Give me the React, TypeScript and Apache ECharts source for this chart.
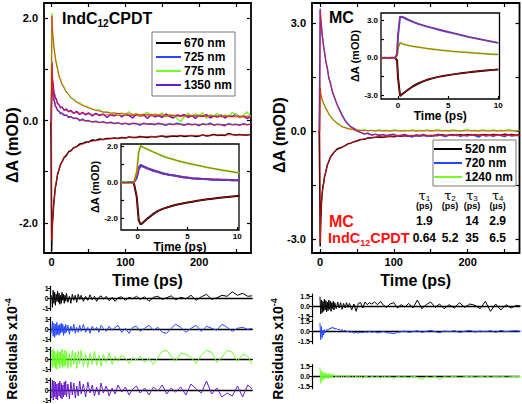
import React, { useEffect, useRef } from 'react';
import * as echarts from 'echarts';

const FONT = '"Liberation Sans", Arial, Helvetica, sans-serif';

// ---------- time grids ----------
const tMain = [
  -2, -1, 0, 0.3, 1, 2, 3, 4, 5, 6,
  8, 10, 12, 14, 17, 20, 23, 26, 30, 34,
  38, 42, 46, 50, 55, 60, 65, 70, 75, 80,
  85, 90, 95, 100, 105, 110, 115, 120, 125, 130,
  135, 140, 145, 150, 155, 160, 165, 170, 175, 180,
  185, 190, 195, 200, 205, 210, 215, 220, 225, 230,
  235, 240, 245, 250, 255, 260, 265, 270,
];
const tFit = [
  -2, -0.1, 0.3, 1, 2, 3, 4, 5, 6, 8,
  10, 12, 14, 17, 20, 25, 30, 35, 40, 50,
  60, 70, 80, 100, 120, 150, 180, 210, 240, 270,
];
const tInsetL = [
  -1.7, -1.2, -0.8, -0.4, -0.1, 0.1, 0.3, 0.6, 1, 1.5,
  2, 2.5, 3, 3.5, 4, 4.5, 5, 5.5, 6, 6.5,
  7, 7.5, 8, 8.5, 9, 9.5, 10, 10.2,
];
const tInsetR = [
  -1.7, -1.3, -0.9, -0.6, -0.3, -0.1, 0, 0.2, 0.5, 1,
  1.5, 2, 2.5, 3, 3.5, 4, 4.5, 5, 5.5, 6,
  6.5, 7, 7.5, 8, 8.5, 9, 9.5, 10,
];
const tRes = [
  0, 1, 2, 3, 4, 5, 6, 7, 8, 9,
  10, 11, 12, 13, 14, 15, 16, 17, 18, 19,
  20, 22, 24, 26, 28, 30, 32, 34, 36, 38,
  40, 43, 46, 49, 52, 55, 58, 61, 64, 67,
  70, 74, 78, 82, 86, 90, 95, 100, 105, 110,
  115, 120, 126, 132, 138, 144, 150, 156, 162, 168,
  175, 182, 189, 196, 203, 210, 217, 224, 231, 238,
  245, 252, 259, 266, 272,
];

// ---------- left panel (IndC12CPDT) ----------
const L670 = [
  0, 0, -2.55, -2.3, -2.02, -1.82, -1.58, -1.46, -1.3, -1.24,
  -1.05, -0.96, -0.86, -0.81, -0.72, -0.68, -0.61, -0.59, -0.53, -0.51,
  -0.46, -0.45, -0.42, -0.42, -0.38, -0.39, -0.36, -0.37, -0.35, -0.35,
  -0.34, -0.35, -0.33, -0.34, -0.32, -0.33, -0.33, -0.31, -0.32, -0.33,
  -0.31, -0.32, -0.31, -0.3, -0.32, -0.31, -0.3, -0.31, -0.29, -0.31,
  -0.3, -0.29, -0.31, -0.3, -0.28, -0.3, -0.29, -0.27, -0.29, -0.28,
  -0.29, -0.25, -0.27, -0.28, -0.27, -0.28, -0.28, -0.27,
];
const L725 = [
  0, 0.01, 0.5, 0.97, 0.68, 0.54, 0.4, 0.37, 0.28, 0.27,
  0.2, 0.18, 0.13, 0.15, 0.1, 0.11, 0.06, 0.08, 0.04, 0.05,
  0.0, 0.03, -0.01, 0.0, -0.03, -0.01, -0.04, -0.02, -0.05, -0.03,
  -0.06, -0.04, -0.07, -0.05, -0.08, -0.05, -0.06, -0.09, -0.05, -0.07,
  -0.06, -0.08, -0.05, -0.07, -0.09, -0.06, -0.08, -0.05, -0.07, -0.09,
  -0.06, -0.08, -0.07, -0.1, -0.06, -0.08, -0.05, -0.09, -0.07, -0.08,
  -0.1, -0.06, -0.08, -0.07, -0.09, -0.06, -0.08, -0.07,
];
const L775 = [
  0, -0.02, 1.5, 2.1, 1.75, 1.62, 1.42, 1.35, 1.22, 1.16,
  1.02, 0.86, 0.81, 0.7, 0.65, 0.55, 0.52, 0.44, 0.42, 0.36,
  0.35, 0.3, 0.28, 0.26, 0.22, 0.2, 0.21, 0.15, 0.18, 0.13,
  0.16, 0.11, 0.15, 0.12, 0.17, 0.1, 0.14, 0.08, 0.13, 0.16,
  0.09, 0.13, 0.11, 0.15, 0.07, 0.12, 0.1, 0.04, -0.02, 0.08,
  0.14, 0.08, 0.13, 0.1, 0.15, 0.04, 0.12, 0.09, 0.14, 0.07,
  0.11, 0.08, 0.16, 0.12, 0.05, 0.1, 0.17, 0.07,
];
const L1350 = [
  0.02, 0.0, 0.6, 1.15, 0.82, 0.71, 0.55, 0.52, 0.43, 0.44,
  0.33, 0.31, 0.25, 0.27, 0.2, 0.23, 0.17, 0.2, 0.14, 0.18,
  0.12, 0.16, 0.11, 0.15, 0.09, 0.14, 0.1, 0.13, 0.06, 0.12,
  0.09, 0.14, 0.07, 0.12, 0.1, 0.05, 0.13, 0.08, 0.11, 0.04,
  0.12, 0.07, 0.1, 0.06, 0.13, 0.08, 0.05, 0.11, 0.09, 0.12,
  0.06, 0.1, 0.04, 0.11, 0.08, 0.12, 0.05, 0.09, 0.07, 0.11,
  0.05, 0.1, 0.08, 0.13, 0.06, 0.09, 0.04, 0.08,
];
const L670fit = [
  0, 0, -2.35, -2.04, -1.8, -1.6, -1.45, -1.32, -1.22, -1.06,
  -0.95, -0.87, -0.8, -0.72, -0.66, -0.59, -0.54, -0.5, -0.47, -0.42,
  -0.39, -0.37, -0.355, -0.335, -0.32, -0.305, -0.295, -0.285, -0.28, -0.275,
];
const L725fit = [
  0, 0, 0.95, 0.7, 0.52, 0.42, 0.35, 0.3, 0.26, 0.21,
  0.18, 0.16, 0.14, 0.12, 0.1, 0.07, 0.05, 0.03, 0.01, -0.01,
  -0.03, -0.04, -0.05, -0.06, -0.065, -0.07, -0.072, -0.075, -0.077, -0.078,
];
const L775fit = [
  0, 0, 2.05, 1.8, 1.6, 1.45, 1.33, 1.23, 1.14, 1.0,
  0.88, 0.79, 0.72, 0.63, 0.56, 0.47, 0.4, 0.35, 0.31, 0.25,
  0.2, 0.17, 0.15, 0.13, 0.12, 0.11, 0.1, 0.095, 0.09, 0.085,
];
const L1350fit = [
  0, 0, 1.1, 0.85, 0.68, 0.58, 0.5, 0.45, 0.41, 0.35,
  0.3, 0.27, 0.25, 0.22, 0.2, 0.18, 0.16, 0.15, 0.14, 0.13,
  0.12, 0.115, 0.11, 0.1, 0.095, 0.09, 0.085, 0.08, 0.075, 0.07,
];
// left inset (0-10 ps)
const LI670 = [
  0, 0, 0.01, 0, -0.8, -2.1, -2.35, -2.2, -2.0, -1.78,
  -1.6, -1.47, -1.38, -1.3, -1.23, -1.17, -1.12, -1.07, -1.02, -0.98,
  -0.94, -0.9, -0.87, -0.84, -0.81, -0.78, -0.75, -0.74,
];
const LI725 = [
  0, 0, 0.01, -0.01, 0.3, 0.85, 0.98, 0.9, 0.8, 0.7,
  0.6, 0.52, 0.46, 0.4, 0.35, 0.3, 0.26, 0.23, 0.21, 0.19,
  0.18, 0.17, 0.16, 0.15, 0.14, 0.13, 0.12, 0.12,
];
const LI775 = [
  0, 0.01, -0.01, 0.02, 0.6, 1.7, 2.05, 1.95, 1.85, 1.72,
  1.6, 1.48, 1.38, 1.3, 1.22, 1.15, 1.08, 1.02, 0.96, 0.9,
  0.84, 0.79, 0.74, 0.69, 0.64, 0.6, 0.55, 0.53,
];
const LI1350 = [
  0.02, 0, 0.01, 0, 0.25, 0.75, 0.92, 0.88, 0.78, 0.66,
  0.6, 0.5, 0.44, 0.41, 0.36, 0.31, 0.28, 0.24, 0.22, 0.2,
  0.2, 0.16, 0.17, 0.14, 0.15, 0.12, 0.13, 0.11,
];

// ---------- right panel (MC) ----------
const R520 = [
  0, 0.01, -2.2, -3.2, -2.55, -1.98, -1.73, -1.53, -1.44, -1.28,
  -1.12, -0.93, -0.84, -0.72, -0.64, -0.56, -0.5, -0.47, -0.44, -0.4,
  -0.35, -0.33, -0.29, -0.27, -0.23, -0.22, -0.19, -0.18, -0.17, -0.16,
  -0.17, -0.15, -0.14, -0.15, -0.13, -0.14, -0.12, -0.14, -0.13, -0.12,
  -0.13, -0.11, -0.12, -0.13, -0.11, -0.12, -0.1, -0.12, -0.11, -0.1,
  -0.12, -0.1, -0.11, -0.09, -0.11, -0.1, -0.12, -0.09, -0.1, -0.11,
  -0.09, -0.1, -0.11, -0.08, -0.1, -0.09, -0.11, -0.1,
];
const R720 = [
  0.02, 0, 2.5, 3.4, 3.12, 2.93, 2.66, 2.52, 2.33, 2.22,
  1.93, 1.75, 1.47, 1.35, 1.08, 0.92, 0.75, 0.62, 0.45, 0.3,
  0.2, 0.12, 0.08, 0.01, -0.03, -0.08, -0.05, -0.11, -0.08, -0.12,
  -0.09, -0.13, -0.1, -0.08, -0.14, -0.11, -0.09, -0.13, -0.16, -0.1,
  -0.12, -0.09, -0.14, -0.11, -0.13, -0.08, -0.12, -0.15, -0.1, -0.12,
  -0.09, -0.14, -0.11, -0.13, -0.09, -0.12, -0.16, -0.1, -0.13, -0.11,
  -0.14, -0.09, -0.12, -0.15, -0.1, -0.13, -0.11, -0.12,
];
const R1240 = [
  0, 0.01, 0.8, 1.22, 1.02, 0.97, 0.86, 0.84, 0.75, 0.74,
  0.62, 0.58, 0.46, 0.44, 0.33, 0.29, 0.22, 0.2, 0.12, 0.11,
  0.07, 0.08, 0.04, 0.05, 0.02, 0.04, 0.01, 0.03, 0.0, 0.04,
  0.01, 0.03, 0.0, 0.04, 0.02, 0.0, 0.03, 0.01, 0.04, 0.0,
  0.03, 0.01, 0.04, 0.0, 0.02, 0.05, 0.01, 0.03, 0.0, 0.04,
  0.02, 0.0, 0.03, 0.05, 0.01, 0.03, 0.0, 0.04, 0.02, 0.01,
  0.04, 0.0, 0.03, 0.01, 0.05, 0.02, 0.0, 0.03,
];
const R520fit = [
  0, 0, -3.1, -2.5, -2.0, -1.7, -1.55, -1.42, -1.3, -1.1,
  -0.94, -0.82, -0.73, -0.63, -0.55, -0.5, -0.45, -0.39, -0.34, -0.26,
  -0.21, -0.18, -0.16, -0.14, -0.13, -0.12, -0.11, -0.105, -0.1, -0.1,
];
const R720fit = [
  0, 0, 3.35, 3.15, 2.9, 2.7, 2.5, 2.35, 2.2, 1.95,
  1.72, 1.5, 1.32, 1.1, 0.9, 0.65, 0.42, 0.26, 0.14, 0.0,
  -0.06, -0.09, -0.1, -0.11, -0.115, -0.12, -0.12, -0.12, -0.12, -0.12,
];
const R1240fit = [
  0, 0, 1.2, 1.05, 0.95, 0.88, 0.82, 0.77, 0.72, 0.64,
  0.56, 0.48, 0.42, 0.34, 0.27, 0.19, 0.13, 0.09, 0.06, 0.03,
  0.02, 0.015, 0.01, 0.01, 0.01, 0.01, 0.01, 0.01, 0.01, 0.01,
];
// right inset (0-10 ps)
const RI520 = [
  0, -0.02, 0, 0.01, 0, -0.2, -1.6, -3.05, -2.85, -2.55,
  -2.27, -2.05, -1.88, -1.73, -1.62, -1.52, -1.45, -1.38, -1.32, -1.26,
  -1.21, -1.16, -1.11, -1.07, -1.03, -0.99, -0.96, -0.93,
];
const RI720 = [
  0, 0.02, -0.01, 0, 0.01, 0.3, 1.8, 3.3, 3.25, 3.05,
  2.88, 2.72, 2.6, 2.48, 2.38, 2.27, 2.17, 2.07, 1.98, 1.88,
  1.78, 1.68, 1.6, 1.52, 1.44, 1.36, 1.28, 1.2,
];
const RI1240 = [
  0, 0, 0.01, 0, 0, 0.15, 0.8, 1.22, 1.1, 1.0,
  0.92, 0.86, 0.8, 0.74, 0.69, 0.64, 0.6, 0.56, 0.52, 0.49,
  0.46, 0.43, 0.4, 0.37, 0.34, 0.31, 0.29, 0.27,
];

// ---------- residuals (x1e-4) ----------
const resL670 = [
  0.3, -0.9, 0.8, -0.5, 0.6, -0.7, 0.4, -0.3, 0.7, -0.4,
  0.5, -0.6, 0.3, -0.5, 0.6, -0.2, 0.4, -0.5, 0.3, -0.3,
  0.5, -0.4, 0.2, -0.5, 0.4, -0.2, 0.3, -0.4, 0.4, -0.1,
  0.3, -0.3, 0.2, -0.2, 0.35, -0.15, 0.2, -0.3, 0.1, 0.25,
  -0.1, 0.2, -0.25, 0.1, -0.3, 0.05, 0.15, -0.2, 0.1, -0.05,
  0.2, -0.1, 0.15, -0.3, 0.1, 0.2, -0.1, 0.05, 0.25, -0.15,
  0.1, -0.05, 0.3, -0.2, 0.15, 0.4, -0.1, 0.05, 0.3, 0.2,
  0.65, 0.3, 0.5, 0.2, 0.25,
];
const resL725 = [
  -0.4, 0.8, -0.7, 0.6, -0.8, 0.5, -0.6, 0.7, -0.5, 0.4,
  -0.6, 0.5, -0.4, 0.6, -0.3, 0.5, -0.6, 0.3, -0.4, 0.5,
  -0.3, 0.4, -0.5, 0.3, -0.2, 0.5, -0.4, 0.2, -0.3, 0.4,
  -0.2, 0.5, -0.3, 0.2, -0.4, 0.3, -0.1, 0.2, -0.3, 0.4,
  0.1, -0.2, 0.3, -0.1, 0.2, 0.4, -0.3, 0.1, -0.4, 0.2,
  0.3, -0.2, 0.1, 0.4, -0.1, 0.2, -0.3, -0.4, 0.1, 0.5,
  0.2, -0.3, 0.1, 0.4, -0.2, 0.3, 0.1, -0.1, 0.5, 0.2,
  -0.2, 0.1, 0.2, 0.0, 0.1,
];
const resL775 = [
  0.9, -0.8, 1.0, -0.7, 0.8, -0.9, 0.6, -1.0, 0.9, -0.5,
  0.7, -0.9, 0.8, -0.6, 1.0, -0.8, 0.5, -0.7, 0.9, -0.6,
  0.8, -0.9, 0.6, -0.8, 0.9, -0.5, 0.7, -0.9, 0.8, -0.4,
  0.9, -0.7, 0.5, -0.8, 0.6, -0.5, 0.8, -0.6, 0.4, -0.7,
  0.5, -0.3, 0.6, -0.5, 0.3, -0.2, 0.4, 0.1, -0.4, 0.2,
  -0.1, 0.3, -0.3, 0.1, -0.5, 0.2, 0.8, 0.9, 0.3, -0.2,
  0.6, 0.5, 0.2, -0.4, 0.4, 0.9, 0.7, -0.3, 0.2, 0.9,
  0.7, -0.2, 0.5, 0.3, -0.5,
];
const resL1350 = [
  -0.8, 1.0, -1.0, 0.9, -0.7, 0.8, -0.9, 0.6, -1.0, 0.7,
  -0.6, 0.9, -0.8, 0.7, -0.9, 0.5, -0.7, 0.8, -0.5, 0.9,
  -0.7, 0.6, -0.9, 0.8, -0.5, 0.7, -0.8, 0.4, -0.6, 0.9,
  -0.4, 0.6, -0.7, 0.8, -0.3, 0.5, -0.6, 0.3, -0.5, 0.7,
  -0.3, 0.4, -0.6, 0.2, -0.4, 0.5, -0.2, 0.3, -0.5, 0.1,
  0.4, -0.3, 0.2, -0.5, 0.3, -0.1, 0.5, -0.4, 0.2, -0.2,
  0.3, -0.5, 0.6, 0.1, -0.3, 0.9, -0.4, 0.2, -0.7, -0.3,
  -0.6, 0.4, -0.7, 0.5, 0.1,
];
const resR520 = [
  1.4, -1.2, 0.9, -1.0, 0.7, -0.8, 1.0, -0.6, 0.8, -0.9,
  0.6, -0.7, 0.9, -0.5, 0.7, -0.8, 0.5, -0.4, 0.7, -0.6,
  0.5, -0.4, 0.6, -0.3, 0.5, -0.5, 0.4, -0.3, 0.5, -0.2,
  0.4, -0.6, 0.3, -0.8, 0.4, 0.5, -0.3, 0.6, 0.2, 0.5,
  0.3, 0.6, 0.2, 0.7, 0.1, -0.2, 0.3, 0.5, -0.3, 0.2,
  -0.2, 0.4, -0.3, 0.9, -0.4, 0.2, 0.6, -0.2, 0.3, -0.4,
  0.2, -0.3, 0.5, -0.2, 0.3, 0.1, -0.4, 0.7, -0.8, 0.3,
  -0.6, 0.2, -0.3, 0.1, 0.0,
];
const resR720 = [
  1.3, -1.2, 0.8, -0.9, 0.2, -0.5, 0.3, -0.2, 0.1, 0.3,
  0.2, 0.4, 0.3, 0.5, 0.4, 0.6, 0.5, 0.7, 0.5, 0.6,
  0.4, 0.5, 0.3, 0.4, 0.2, 0.3, 0.1, 0.2, 0.0, 0.1,
  -0.1, 0.0, -0.2, -0.1, -0.2, -0.1, -0.15, 0.0, -0.1, 0.05,
  -0.1, 0.0, -0.2, -0.1, 0.05, -0.15, -0.2, -0.3, -0.1, 0.0,
  0.1, -0.1, 0.0, 0.15, -0.1, 0.05, 0.2, 0.0, -0.15, 0.1,
  0.0, 0.15, -0.1, 0.05, 0.2, -0.05, 0.1, 0.0, 0.15, -0.1,
  0.2, 0.0, 0.1, 0.15, 0.05,
];
const resR1240 = [
  1.4, -1.0, 0.9, -0.6, 0.7, -0.4, 0.5, -0.3, 0.6, -0.2,
  0.4, -0.3, 0.5, 0.0, 0.3, -0.2, 0.4, -0.1, 0.3, 0.1,
  0.3, -0.1, 0.2, 0.0, 0.25, -0.15, 0.1, 0.2, -0.1, 0.15,
  0.0, 0.2, -0.2, 0.1, -0.1, 0.2, -0.3, 0.1, 0.0, -0.2,
  0.1, -0.15, 0.05, -0.2, 0.15, -0.1, 0.0, -0.3, 0.1, -0.1,
  0.0, -0.2, 0.1, -0.1, -0.4, 0.0, -0.2, 0.1, -0.4, 0.0,
  -0.1, 0.1, -0.2, 0.0, 0.1, -0.1, 0.0, 0.15, -0.1, 0.05,
  0.1, -0.1, 0.0, 0.05, 0.0,
];

// ---------- tick values / labels ----------
const mainXTicks = [0, 50, 100, 150, 200, 250];
const mainXLabels = [0, 100, 200];
const leftYTicks = [-2, -1, 0, 1, 2];
const leftYLabels = [-2, 0, 2];
const rightYTicks = [-3, -1.5, 0, 1.5, 3];
const rightYLabels = [-3, 0, 3];
const insetXTicks = [0, 5, 10];
const resLTicks = [-1, 0, 1];
const resRTicks = [-1.5, 0, 1.5];

const legendLeft = ['670 nm', '725 nm', '775 nm', '1350 nm'];
const legendRight = ['520 nm', '720 nm', '1240 nm'];

const tauHeaders = ['1', '2', '3', '4'];
const tauUnits = ['(ps)', '(ps)', '(ps)', '(\u00b5s)'];
const tauMC = ['1.9', '', '14', '2.9'];
const tauInd = ['0.64', '5.2', '35', '6.5'];

const C_BLACK = '#000000';
const C_BLUE = '#2448ff';
const C_GREEN = '#6cff2a';
const C_PURPLE = '#6a1ccc';
const C_RED = '#ff1010';

const pair = (t: number[], v: number[]) => t.map((x, i) => [x, v[i]]);

const lineS = (name: string, xi: number, yi: number, t: number[], v: number[], color: string, width: number, z = 2) => ({
  type: 'line',
  name,
  xAxisIndex: xi,
  yAxisIndex: yi,
  data: pair(t, v),
  showSymbol: false,
  symbol: 'none',
  lineStyle: { color, width },
  itemStyle: { color },
  z,
  silent: true,
  clip: true,
});

const bold = (size: number) => ({ fontFamily: FONT, fontWeight: 'bold' as const, fontSize: size, color: '#000' });

function frameX(gridIndex: number, min: number, max: number, ticks: number[], labels: number[] | null, opts: any = {}) {
  return {
    type: 'value', gridIndex, min, max, position: opts.position || 'bottom',
    axisLine: { show: false, onZero: false },
    splitLine: { show: false },
    axisTick: { show: true, inside: true, length: opts.tickLen || 4, lineStyle: { color: '#000', width: 1.2 }, customValues: ticks },
    axisLabel: labels
      ? { show: true, customValues: labels, margin: opts.margin ?? 3, ...bold(opts.fontSize || 11), formatter: (v: number) => String(v) }
      : { show: false },
    ...(opts.name ? { name: opts.name, nameLocation: 'middle', nameGap: opts.nameGap, nameTextStyle: bold(opts.nameSize) } : {}),
  };
}
function frameY(gridIndex: number, min: number, max: number, ticks: number[], labels: number[] | null, opts: any = {}) {
  return {
    type: 'value', gridIndex, min, max, position: opts.position || 'left',
    axisLine: { show: false, onZero: false },
    splitLine: { show: false },
    axisTick: { show: true, inside: true, length: opts.tickLen || 4, lineStyle: { color: '#000', width: 1.2 }, customValues: ticks },
    axisLabel: labels
      ? { show: true, customValues: labels, margin: opts.margin ?? 6, ...bold(opts.fontSize || 11), formatter: (v: number) => v.toFixed(1) }
      : { show: false },
    ...(opts.name ? { name: opts.name, nameLocation: 'middle', nameGap: opts.nameGap, nameTextStyle: bold(opts.nameSize) } : {}),
  };
}
function resX(gridIndex: number, min: number, max: number) {
  return {
    type: 'value', gridIndex, min, max,
    axisLine: { show: true, onZero: true, lineStyle: { color: '#000', width: 1.3 } },
    axisTick: { show: false },
    axisLabel: { show: false },
    splitLine: { show: false },
  };
}
function resY(gridIndex: number, lim: number, ticks: number[], digits: number) {
  return {
    type: 'value', gridIndex, min: -lim, max: lim,
    axisLine: { show: true, onZero: false, lineStyle: { color: '#000', width: 1.2 } },
    axisTick: { show: true, inside: false, length: 3, lineStyle: { color: '#000', width: 1 }, customValues: ticks },
    axisLabel: { show: true, customValues: ticks, margin: 2, ...bold(7), formatter: (v: number) => v.toFixed(digits) },
    splitLine: { show: false },
  };
}

const frameGrid = (left: number, top: number, width: number, height: number, bw = 1.5) => ({
  left, top, width, height, show: true, borderColor: '#000', borderWidth: bw, backgroundColor: 'transparent',
});
const resGrid = (left: number, center: number, width: number) => ({ left, top: center - 12, width, height: 24, show: false });

const resLCenters = [298.3, 329.3, 359.3, 390];
const resRCenters = [306, 331.7, 376.7];

function buildOption() {
  const grid = [
    frameGrid(44, 3, 207, 250, 1.8), // 0 left main
    frameGrid(121, 144, 118, 86, 1.3), // 1 left inset
    frameGrid(312, 3, 207.5, 250, 1.8), // 2 right main
    frameGrid(381, 13, 118.5, 86, 1.3), // 3 right inset
    ...resLCenters.map((c) => resGrid(50.7, c, 201.5)), // 4-7
    ...resRCenters.map((c) => resGrid(312, c, 207.5)), // 8-10
  ];
  const xAxis: any[] = [
    frameX(0, -10.4, 270.4, mainXTicks, mainXLabels, { name: 'Time (ps)', nameGap: 19, nameSize: 16 }), // 0
    frameX(0, -10.4, 270.4, mainXTicks, null, { position: 'top' }), // 1
    frameX(1, -1.68, 10.17, insetXTicks, insetXTicks, { fontSize: 8, margin: 2, tickLen: 3, name: 'Time (ps)', nameGap: 9, nameSize: 12 }), // 2
    frameX(2, -10.8, 270.3, mainXTicks, mainXLabels, { name: 'Time (ps)', nameGap: 19, nameSize: 16 }), // 3
    frameX(2, -10.8, 270.3, mainXTicks, null, { position: 'top' }), // 4
    frameX(3, -1.7, 10.12, insetXTicks, insetXTicks, { fontSize: 8, margin: 2, tickLen: 3, name: 'Time (ps)', nameGap: 9, nameSize: 12 }), // 5
    ...resLCenters.map((_, i) => resX(4 + i, -1.36, 272)), // 6-9
    ...resRCenters.map((_, i) => resX(8 + i, -10.8, 270.3)), // 10-12
  ];
  const yAxis: any[] = [
    frameY(0, -2.59, 2.3, leftYTicks, leftYLabels), // 0
    frameY(0, -2.59, 2.3, leftYTicks, null, { position: 'right' }), // 1
    frameY(1, -2.65, 2.15, leftYTicks, leftYLabels, { fontSize: 8, margin: 3, tickLen: 3, name: '\u0394A (mOD)', nameGap: 13, nameSize: 11 }), // 2
    frameY(2, -3.38, 3.56, rightYTicks, rightYLabels), // 3
    frameY(2, -3.38, 3.56, rightYTicks, null, { position: 'right' }), // 4
    frameY(3, -3.29, 3.59, rightYTicks, rightYLabels, { fontSize: 8, margin: 3, tickLen: 3, name: '\u0394A (mOD)', nameGap: 13, nameSize: 11 }), // 5
    ...resLCenters.map((_, i) => resY(4 + i, 1.2, resLTicks, 0)), // 6-9
    ...resRCenters.map((_, i) => resY(8 + i, 1.8, resRTicks, 1)), // 10-12
  ];

  const DW = 1.5; // data line width
  const FW = 0.8; // fit line width
  const series: any[] = [
    // left main
    lineS('670 nm', 0, 0, tMain, L670, C_BLACK, DW),
    lineS('1350 nm', 0, 0, tMain, L1350, C_PURPLE, DW),
    lineS('775 nm', 0, 0, tMain, L775, C_GREEN, DW),
    lineS('725 nm', 0, 0, tMain, L725, C_BLUE, DW),
    lineS('fitL670', 0, 0, tFit, L670fit, C_RED, FW, 3),
    lineS('fitL725', 0, 0, tFit, L725fit, C_RED, FW, 3),
    lineS('fitL775', 0, 0, tFit, L775fit, C_RED, FW, 3),
    lineS('fitL1350', 0, 0, tFit, L1350fit, C_RED, FW, 3),
    // left inset
    lineS('670 nm', 2, 2, tInsetL, LI670, C_BLACK, 2),
    lineS('1350 nm', 2, 2, tInsetL, LI1350, C_PURPLE, 2),
    lineS('725 nm', 2, 2, tInsetL, LI725, C_BLUE, 2),
    lineS('775 nm', 2, 2, tInsetL, LI775, C_GREEN, 2),
    lineS('fitLI670', 2, 2, tInsetL, LI670, C_RED, 0.7, 3),
    lineS('fitLI725', 2, 2, tInsetL, LI725, C_RED, 0.7, 3),
    lineS('fitLI775', 2, 2, tInsetL, LI775, C_RED, 0.7, 3),
    // right main
    lineS('520 nm', 3, 3, tMain, R520, C_BLACK, DW),
    lineS('1240 nm', 3, 3, tMain, R1240, C_GREEN, DW),
    lineS('720 nm', 3, 3, tMain, R720, C_BLUE, DW),
    lineS('fitR520', 3, 3, tFit, R520fit, C_RED, FW, 3),
    lineS('fitR720', 3, 3, tFit, R720fit, C_RED, FW, 3),
    lineS('fitR1240', 3, 3, tFit, R1240fit, C_RED, FW, 3),
    // right inset
    lineS('520 nm', 5, 5, tInsetR, RI520, C_BLACK, 2),
    lineS('1240 nm', 5, 5, tInsetR, RI1240, C_GREEN, 2),
    lineS('720 nm', 5, 5, tInsetR, RI720, C_BLUE, 2),
    lineS('fitRI520', 5, 5, tInsetR, RI520, C_RED, 0.7, 3),
    lineS('fitRI720', 5, 5, tInsetR, RI720, C_RED, 0.7, 3),
    lineS('fitRI1240', 5, 5, tInsetR, RI1240, C_RED, 0.7, 3),
    // residuals
    lineS('res670', 6, 6, tRes, resL670, C_BLACK, 1),
    lineS('res725', 7, 7, tRes, resL725, C_BLUE, 1),
    lineS('res775', 8, 8, tRes, resL775, C_GREEN, 1),
    lineS('res1350', 9, 9, tRes, resL1350, C_PURPLE, 1),
    lineS('res520', 10, 10, tRes, resR520, C_BLACK, 1),
    lineS('res720', 11, 11, tRes, resR720, C_BLUE, 1),
    lineS('res1240', 12, 12, tRes, resR1240, C_GREEN, 1),
  ];

  const legendBase = {
    orient: 'vertical', icon: 'rect', itemHeight: 2, itemGap: 2, selectedMode: false,
    borderColor: '#777', borderWidth: 1, backgroundColor: '#fff',
    textStyle: { ...bold(12), lineHeight: 12, padding: [0, 0, 0, -2] },
  };
  const legend = [
    { ...legendBase, data: legendLeft, left: 152, top: 32, itemWidth: 25, padding: [5, 3, 5, 4] },
    { ...legendBase, data: legendRight, left: 433, top: 140, itemWidth: 28, padding: [3, 3, 3, 1] },
  ];

  const big = (color: string, size = 16) => ({ fontFamily: FONT, fontWeight: 'bold', fontSize: size, lineHeight: 20, fill: color });
  const sub = (color: string, size = 10) => ({ fontFamily: FONT, fontWeight: 'bold', fontSize: size, lineHeight: size, verticalAlign: 'bottom', fill: color });
  const resRich = {
    a: { fontFamily: FONT, fontWeight: 'bold', fontSize: 14, lineHeight: 18, fill: '#000' },
    s: { fontFamily: FONT, fontWeight: 'bold', fontSize: 9, lineHeight: 9, verticalAlign: 'top', fill: '#000' },
  };

  const tauX = [424.3, 450, 472, 497.7];
  const graphic: any[] = [
    { type: 'text', x: 12, y: 145, rotation: Math.PI / 2, style: { text: '\u0394A (mOD)', ...bold(16), fill: '#000', align: 'center', verticalAlign: 'middle' } },
    { type: 'text', x: 279, y: 135, rotation: Math.PI / 2, style: { text: '\u0394A (mOD)', ...bold(16), fill: '#000', align: 'center', verticalAlign: 'middle' } },
    { type: 'text', x: 12, y: 349, rotation: Math.PI / 2, style: { text: '{a|Residuals x10}{s|-4}', align: 'center', verticalAlign: 'middle', rich: resRich } },
    { type: 'text', x: 278, y: 349, rotation: Math.PI / 2, style: { text: '{a|Residuals x10}{s|-4}', align: 'center', verticalAlign: 'middle', rich: resRich } },
    {
      type: 'text', x: 62, y: 18,
      style: { text: '{a|IndC}{s|12}{a|CPDT}', align: 'left', verticalAlign: 'middle', rich: { a: big('#000'), s: sub('#000') } },
    },
    { type: 'text', x: 329, y: 17, style: { text: 'MC', ...bold(16), fill: '#000', align: 'left', verticalAlign: 'middle' } },
    { type: 'text', x: 329, y: 221, style: { text: 'MC', ...bold(16), fill: C_RED, align: 'left', verticalAlign: 'middle' } },
    {
      type: 'text', x: 328, y: 237.5,
      style: { text: '{a|IndC}{s|12}{a|CPDT}', align: 'left', verticalAlign: 'middle', rich: { a: big(C_RED, 14.5), s: sub(C_RED, 9) } },
    },
  ];
  tauHeaders.forEach((h, i) => {
    graphic.push({
      type: 'text', x: tauX[i], y: 195,
      style: {
        text: `{t|\u03c4}{s|${h}}`, align: 'center', verticalAlign: 'middle',
        rich: {
          t: { fontFamily: '"DejaVu Serif", serif', fontSize: 13, lineHeight: 14, fill: '#000' },
          s: { fontFamily: FONT, fontSize: 8, lineHeight: 8, verticalAlign: 'bottom', fill: '#000' },
        },
      },
    });
    graphic.push({ type: 'text', x: tauX[i], y: 206, style: { text: tauUnits[i], ...bold(9), fill: '#000', align: 'center', verticalAlign: 'middle' } });
    if (tauMC[i]) graphic.push({ type: 'text', x: tauX[i], y: 221, style: { text: tauMC[i], ...bold(12), fill: '#000', align: 'center', verticalAlign: 'middle' } });
    graphic.push({ type: 'text', x: tauX[i], y: 237.5, style: { text: tauInd[i], ...bold(12), fill: '#000', align: 'center', verticalAlign: 'middle' } });
  });

  return {
    animation: false,
    backgroundColor: '#fff',
    grid,
    xAxis,
    yAxis,
    legend,
    series,
    graphic,
  };
}

export default function App() {
  const ref = useRef<HTMLDivElement>(null);
  useEffect(() => {
    if (!ref.current) return;
    const chart = echarts.init(ref.current, undefined, { renderer: 'svg', width: 522, height: 404 });
    chart.setOption(buildOption() as any);
    return () => chart.dispose();
  }, []);
  return <div ref={ref} style={{ position: 'fixed', left: 0, top: 0, width: 522, height: 404 }} />;
}
